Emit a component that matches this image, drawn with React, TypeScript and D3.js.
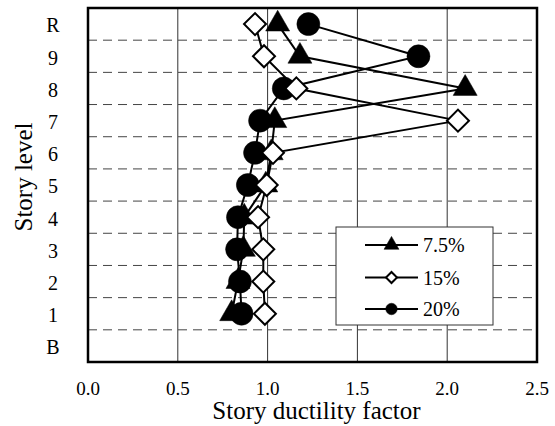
import React from "react";
import * as d3 from "d3";

const storyLabels = ["B", "1", "2", "3", "4", "5", "6", "7", "8", "9", "R"];
const dataLevels = ["1", "2", "3", "4", "5", "6", "7", "8", "9", "R"];
const series75 = [0.8, 0.835, 0.865, 0.87, 0.99, 1.02, 1.04, 2.1, 1.18, 1.056];
const series15 = [0.985, 0.976, 0.976, 0.947, 0.995, 1.03, 2.06, 1.16, 0.98, 0.93];
const series20 = [0.855, 0.846, 0.83, 0.835, 0.89, 0.93, 0.958, 1.09, 1.84, 1.227];
const xTicks = [0, 0.5, 1.0, 1.5, 2.0, 2.5];
const legendNames = ["7.5%", "15%", "20%"];

const W = 555, H = 426;
const M = { left: 88, right: 537, top: 8, bottom: 362 };
const FONT = '"Liberation Serif", "DejaVu Serif", serif';

type Kind = "tri" | "dia" | "cir";

function markerPath(kind: Kind, scale: number): string {
  if (kind === "tri") return d3.symbol(d3.symbolTriangle, 250 * scale * scale)()!;
  if (kind === "cir") return d3.symbol(d3.symbolCircle, 415 * scale * scale)()!;
  return d3.symbol(d3.symbolSquare, 242 * scale * scale)()!;
}

const textStyle = { fontFamily: FONT };

export default function App() {
  const x = d3.scaleLinear().domain([0, 2.5]).range([M.left, M.right]);
  const y = d3.scaleLinear().domain([0, storyLabels.length]).range([M.bottom, M.top]);
  const levelY = (lvl: string) => y(storyLabels.indexOf(lvl) + 0.5);

  const seriesList: { kind: Kind; values: number[]; name: string }[] = [
    { kind: "tri", values: series75, name: legendNames[0] },
    { kind: "cir", values: series20, name: legendNames[2] },
    { kind: "dia", values: series15, name: legendNames[1] },
  ];
  const legendOrder: Kind[] = ["tri", "dia", "cir"];

  const line = d3
    .line<number>()
    .x((v) => x(v))
    .y((_, i) => levelY(dataLevels[i]));

  const renderMarker = (kind: Kind, cx: number, cy: number, s: number, key: string) => (
    <path
      key={key}
      d={markerPath(kind, s)}
      transform={`translate(${cx},${cy})${kind === "dia" ? " rotate(45)" : ""}`}
      fill={kind === "dia" ? "#fff" : "#000"}
      stroke="#000"
      strokeWidth={kind === "dia" ? 2 : 0.5}
    />
  );

  const lg = { x0: 336, y0: 227, x1: 493, y1: 325 };
  const legendRowY = [245, 277.5, 309];

  return (
    <svg
      width={W}
      height={H}
      style={{ position: "absolute", left: 0, top: 0, background: "#fff" }}
    >
      <rect x={0} y={0} width={W} height={H} fill="#fff" />
      {xTicks.slice(1, -1).map((t) => (
        <line key={"vg" + t} x1={x(t)} x2={x(t)} y1={M.top} y2={M.bottom} stroke="#333" strokeWidth={1} />
      ))}
      {d3.range(1, storyLabels.length).map((i) => (
        <line
          key={"hg" + i}
          x1={M.left}
          x2={M.right}
          y1={y(i)}
          y2={y(i)}
          stroke="#444"
          strokeWidth={1}
          strokeDasharray="9,6"
        />
      ))}
      {seriesList.map((s) => (
        <g key={s.kind}>
          <path d={line(s.values)!} fill="none" stroke="#000" strokeWidth={2} />
          {s.values.map((v, i) => renderMarker(s.kind, x(v), levelY(dataLevels[i]), 1, s.kind + i))}
        </g>
      ))}
      <rect
        x={M.left}
        y={M.top}
        width={M.right - M.left}
        height={M.bottom - M.top}
        fill="none"
        stroke="#000"
        strokeWidth={2.5}
      />
      <rect x={lg.x0} y={lg.y0} width={lg.x1 - lg.x0} height={lg.y1 - lg.y0} fill="#fff" stroke="#333" strokeWidth={1} />
      {legendOrder.map((k, i) => {
        const s = seriesList.find((d) => d.kind === k)!;
        const ly = legendRowY[i];
        return (
          <g key={"lg" + k}>
            <line x1={365} x2={418} y1={ly} y2={ly} stroke="#000" strokeWidth={2} />
            {renderMarker(k, 391.5, ly, k === "tri" ? 0.62 : 0.5, "lm" + k)}
            <text x={423} y={ly} dy="0.35em" fontSize={20} fill="#000" style={textStyle}>
              {s.name}
            </text>
          </g>
        );
      })}
      {storyLabels.map((lab, i) => (
        <text key={"yl" + lab} x={53} y={y(i + 0.5)} dy="0.42em" textAnchor="middle" fontSize={20} fill="#000" style={textStyle}>
          {lab}
        </text>
      ))}
      {xTicks.map((t) => (
        <text key={"xt" + t} x={x(t)} y={388} dy="0.35em" textAnchor="middle" fontSize={19} fill="#000" style={textStyle}>
          {t.toFixed(1)}
        </text>
      ))}
      <text x={(M.left + M.right) / 2 + 4} y={419} textAnchor="middle" fontSize={25} fill="#000" style={textStyle}>
        Story ductility factor
      </text>
      <text
        transform={`translate(32,${(M.top + M.bottom) / 2 - 8}) rotate(-90)`}
        textAnchor="middle"
        fontSize={25}
        fill="#000"
        style={textStyle}
      >
        Story level
      </text>
    </svg>
  );
}
